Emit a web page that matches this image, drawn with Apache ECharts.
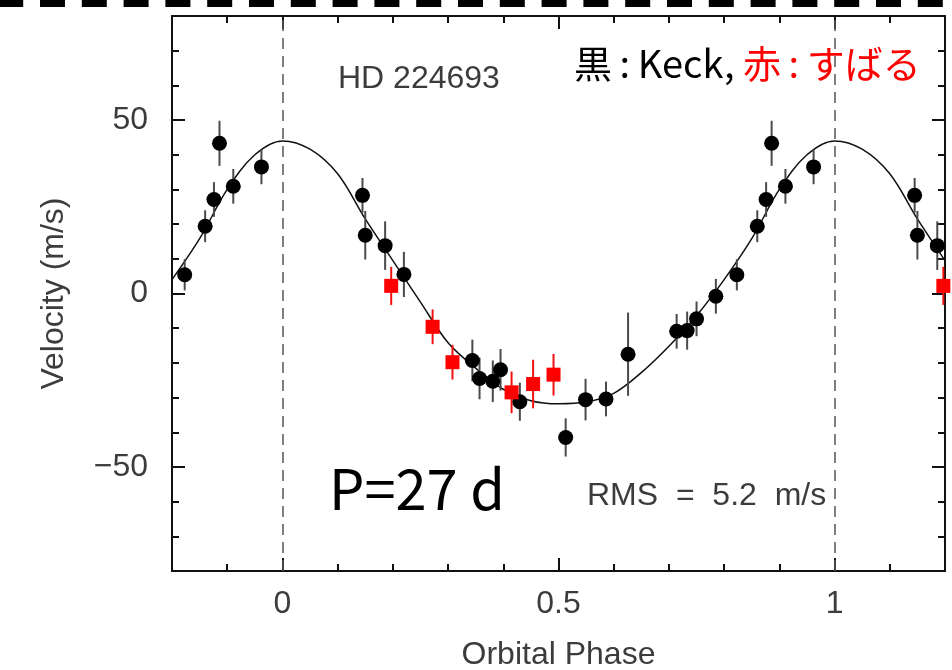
<!DOCTYPE html>
<html>
<head>
<meta charset="utf-8">
<script src="https://cdn.jsdelivr.net/npm/echarts@6/dist/echarts.min.js"></script>
<style>
  html, body { margin: 0; padding: 0; background: #fff; }
  #chart { width: 952px; height: 670px; }
</style>
</head>
<body>
<div id="chart"></div>
<script>
// HD 224693 radial velocities folded on the 27-day orbit.
// Keck measurements (black): phase, velocity (m/s), 1-sigma error (m/s)
const keckPhase = [0.145, 0.150, 0.186, 0.220, 0.344, 0.357, 0.381, 0.395, 0.430, 0.513, 0.549, 0.586,
                   0.626, 0.714, 0.733, 0.750, 0.785, 0.823, 0.860, 0.876, 0.886, 0.911, 0.962];
const keckVel   = [28.3, 16.8, 13.8, 5.5, -19.3, -24.5, -25.3, -22.0, -31.2, -41.5, -30.6, -30.4,
                   -17.5, -10.9, -10.7, -7.3, -0.8, 5.4, 19.4, 27.1, 43.3, 30.9, 36.5];
const keckErr   = [5.0, 7.0, 7.0, 6.5, 6.0, 6.0, 6.0, 6.0, 5.5, 5.5, 6.0, 5.0,
                   12.0, 5.0, 5.5, 5.0, 5.0, 4.5, 4.6, 5.0, 6.5, 5.0, 5.0];

// Subaru measurements (red)
const subaruPhase = [0.197, 0.272, 0.308, 0.415, 0.454, 0.491];
const subaruVel   = [2.2, -9.6, -19.8, -28.5, -26.1, -23.4];
const subaruErr   = [5.5, 5.0, 5.0, 6.0, 7.0, 6.0];

// Orbit model, sampled over one period
const modelPhase = [0.00, 0.05, 0.10, 0.15, 0.20, 0.25, 0.30, 0.35, 0.40, 0.45,
                    0.50, 0.55, 0.60, 0.65, 0.70, 0.75, 0.80, 0.85, 0.90, 0.95];
const modelVel   = [44.0, 41.6, 34.5, 21.5, 9.5, -2.5, -14.2, -21.5, -27.6, -30.9,
                    -31.8, -31.3, -28.8, -22.8, -15.2, -6.4, 4.0, 15.8, 30.0, 40.0];

// Axis ticks and labels
const phaseMin = -0.2, phaseMax = 1.2, phaseMinorStep = 0.1;
const phaseMajorTicks = [0, 0.5, 1];
const velMin = -80, velMax = 80, velMinorStep = 10;
const velMajorTicks = [-50, 0, 50];
const epochLines = [0, 1];

// Repeat each measurement one cycle earlier/later wherever it falls in the plotted phase window
function fold(phases, vals, errs) {
  const out = [];
  [-1, 0, 1].forEach(function (shift) {
    phases.forEach(function (p, i) {
      const q = +(p + shift).toFixed(4);
      if (q >= phaseMin - 1e-9 && q <= phaseMax + 1e-9) {
        out.push(errs ? [q, vals[i], errs[i]] : [q, vals[i]]);
      }
    });
  });
  out.sort(function (a, b) { return a[0] - b[0]; });
  return out;
}

const keckPts = fold(keckPhase, keckVel, keckErr);
const subaruPts = fold(subaruPhase, subaruVel, subaruErr);
const modelPts = fold(modelPhase, modelVel, null);

const axisFont = "'Liberation Sans', 'DejaVu Sans', sans-serif";
const textGrey = '#3c3c3c';

function errorBars(color) {
  return function (params, api) {
    const p = api.value(0), v = api.value(1), e = api.value(2);
    const a = api.coord([p, v + e]);
    const b = api.coord([p, v - e]);
    return {
      type: 'line',
      shape: { x1: a[0], y1: a[1], x2: b[0], y2: b[1] },
      style: { stroke: color, lineWidth: 2 }
    };
  };
}

const frameLine = { show: true, onZero: false, lineStyle: { color: '#111', width: 2 } };
const noLine = { show: false, onZero: false };
const minorTick = { inside: true, length: 7, lineStyle: { color: '#111', width: 2 } };

function majorTick(values) {
  return { inside: true, length: 13, customValues: values, lineStyle: { color: '#111', width: 2 } };
}

const chart = echarts.init(document.getElementById('chart'), null, { renderer: 'canvas' });
chart.setOption({
  animation: false,
  backgroundColor: '#fff',
  grid: { left: 172, top: 16, right: 7, bottom: 99, containLabel: false, outerBoundsMode: 'none' },
  xAxis: [
    { // bottom: minor ticks + frame line
      type: 'value', min: phaseMin, max: phaseMax, interval: phaseMinorStep, position: 'bottom',
      axisLine: frameLine, axisTick: minorTick,
      axisLabel: { show: false }, splitLine: { show: false },
      name: 'Orbital Phase', nameLocation: 'middle', nameGap: 68,
      nameTextStyle: { fontFamily: axisFont, fontSize: 32, color: textGrey }
    },
    { // bottom: major ticks with labels
      type: 'value', min: phaseMin, max: phaseMax, position: 'bottom',
      axisLine: noLine, axisTick: majorTick(phaseMajorTicks),
      axisLabel: { customValues: phaseMajorTicks, fontFamily: axisFont, fontSize: 32, color: textGrey, margin: 17 },
      splitLine: { show: false }
    },
    { // top: minor ticks + frame line
      type: 'value', min: phaseMin, max: phaseMax, interval: phaseMinorStep, position: 'top',
      axisLine: frameLine, axisTick: minorTick,
      axisLabel: { show: false }, splitLine: { show: false }
    },
    { // top: major ticks
      type: 'value', min: phaseMin, max: phaseMax, position: 'top',
      axisLine: noLine, axisTick: majorTick(phaseMajorTicks),
      axisLabel: { show: false }, splitLine: { show: false }
    }
  ],
  yAxis: [
    { // left: minor ticks + frame line
      type: 'value', min: velMin, max: velMax, interval: velMinorStep, position: 'left',
      axisLine: frameLine, axisTick: minorTick,
      axisLabel: { show: false }, splitLine: { show: false },
      name: 'Velocity (m/s)', nameLocation: 'middle', nameGap: 102, nameRotate: 90,
      nameTextStyle: { fontFamily: axisFont, fontSize: 32, color: textGrey }
    },
    { // left: major ticks with labels
      type: 'value', min: velMin, max: velMax, position: 'left',
      axisLine: noLine, axisTick: majorTick(velMajorTicks),
      axisLabel: {
        customValues: velMajorTicks, fontFamily: axisFont, fontSize: 32, color: textGrey, margin: 24,
        formatter: function (v) { return v < 0 ? '\u2212' + Math.abs(v) : String(v); }
      },
      splitLine: { show: false }
    },
    { // right: minor ticks + frame line
      type: 'value', min: velMin, max: velMax, interval: velMinorStep, position: 'right',
      axisLine: frameLine, axisTick: minorTick,
      axisLabel: { show: false }, splitLine: { show: false }
    },
    { // right: major ticks
      type: 'value', min: velMin, max: velMax, position: 'right',
      axisLine: noLine, axisTick: majorTick(velMajorTicks),
      axisLabel: { show: false }, splitLine: { show: false }
    }
  ],
  series: [
    {
      name: 'model', type: 'line', xAxisIndex: 0, yAxisIndex: 0,
      data: modelPts, showSymbol: false, smooth: 0.35, silent: true, z: 2,
      lineStyle: { color: '#111', width: 1.5 },
      markLine: {
        silent: true, symbol: 'none', label: { show: false },
        lineStyle: { color: '#555', width: 1.5, type: [11, 7] },
        data: epochLines.map(function (x) { return { xAxis: x }; })
      }
    },
    {
      name: 'Keck error', type: 'custom', xAxisIndex: 0, yAxisIndex: 0, z: 3,
      data: keckPts, renderItem: errorBars('#4a4a4a'), clip: false
    },
    {
      name: 'Subaru error', type: 'custom', xAxisIndex: 0, yAxisIndex: 0, z: 3,
      data: subaruPts, renderItem: errorBars('#f21010'), clip: false
    },
    {
      name: 'Keck', type: 'scatter', xAxisIndex: 0, yAxisIndex: 0, z: 4,
      data: keckPts.map(function (d) { return [d[0], d[1]]; }),
      symbol: 'circle', symbolSize: 15, itemStyle: { color: '#000', opacity: 1 }, clip: false
    },
    {
      name: 'Subaru', type: 'scatter', xAxisIndex: 0, yAxisIndex: 0, z: 4,
      data: subaruPts.map(function (d) { return [d[0], d[1]]; }),
      symbol: 'rect', symbolSize: 14, itemStyle: { color: '#ff0000', opacity: 1 }, clip: false
    }
  ],
  graphic: [
    { // dashed rule along the top of the page
      type: 'line', silent: true,
      shape: { x1: -1.8, y1: 3.5, x2: 960, y2: 3.5 },
      style: { stroke: '#000', lineWidth: 7, lineDash: [25, 16.8] }
    },
    {
      type: 'text', left: 338, top: 63, silent: true,
      style: { text: 'HD 224693', fontFamily: axisFont, fontSize: 32, fill: textGrey }
    },
    {
      type: 'text', left: 587, top: 480, silent: true,
      style: { text: 'RMS  =  5.2  m/s', fontFamily: axisFont, fontSize: 32, fill: textGrey }
    },
    {
      type: 'text', left: 329, top: 461, silent: true,
      style: { text: 'P=27 d', fontFamily: "'Noto Sans CJK JP', 'Noto Sans', sans-serif", fontSize: 56, fill: '#000' }
    },
    {
      type: 'text', left: 574, top: 45, silent: true,
      style: {
        text: '{k|黒\u2009:\u2009Keck,} {s|赤\u2009:\u2009すばる}',
        fontFamily: "'Noto Sans CJK JP', sans-serif", fontSize: 38,
        rich: {
          k: { fill: '#000', fontFamily: "'Noto Sans CJK JP', sans-serif", fontSize: 38 },
          s: { fill: '#ff0000', fontFamily: "'Noto Sans CJK JP', sans-serif", fontSize: 38 }
        }
      }
    }
  ]
});
</script>
</body>
</html>
